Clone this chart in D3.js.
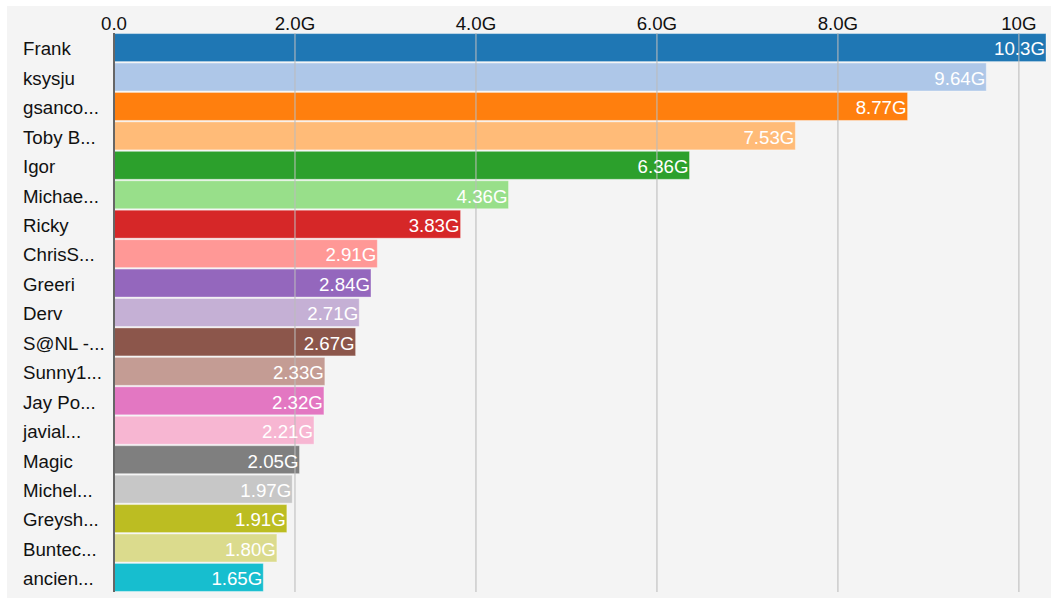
<!DOCTYPE html>
<html lang="en">
<head>
    <meta charset="UTF-8">
    <title>Top users</title>
    <script src="https://cdnjs.cloudflare.com/ajax/libs/d3/7.6.1/d3.min.js"></script>
    <style>
        body {
            margin: 0;
            background: #fff;
            font-family: "Liberation Sans", Arial, sans-serif;
        }
        svg text {
            font-size: 18.7px;
        }
    </style>
</head>
<body>
    <svg id="chart" width="1051" height="601"></svg>

    <script>
        // names as shown (already truncated)
        const names = ["Frank", "ksysju", "gsanco...", "Toby B...", "Igor", "Michae...", "Ricky",
            "ChrisS...", "Greeri", "Derv", "S@NL -...", "Sunny1...", "Jay Po...", "javial...",
            "Magic", "Michel...", "Greysh...", "Buntec...", "ancien..."];
        // values in G
        const values = [10.3, 9.64, 8.77, 7.53, 6.36, 4.36, 3.83, 2.91, 2.84, 2.71, 2.67,
            2.33, 2.32, 2.21, 2.05, 1.97, 1.91, 1.80, 1.65];
        const colors = ["#1f77b4", "#aec7e8", "#ff7f0e", "#ffbb78", "#2ca02c", "#98df8a",
            "#d62728", "#ff9896", "#9467bd", "#c5b0d5", "#8c564b", "#c49c94", "#e377c2",
            "#f7b6d2", "#7f7f7f", "#c7c7c7", "#bcbd22", "#dbdb8d", "#17becf"];

        const data = names.map((n, i) => ({ name: n, value: values[i] * 1e9, color: colors[i] }));

        const svg = d3.select("#chart");

        // panel background
        svg.append("rect")
            .attr("x", 7).attr("y", 6)
            .attr("width", 1044).attr("height", 592)
            .attr("fill", "#f4f4f4");

        const x = d3.scaleLinear()
            .domain([0, d3.max(data, d => d.value)])
            .range([114, 1046]);

        const y = d3.scaleBand()
            .domain(names)
            .range([33, 592])
            .paddingInner(0.05)
            .paddingOuter(0.02);

        const fmt = d3.format(".3s");

        // bars
        svg.append("g")
            .selectAll("rect")
            .data(data)
            .enter()
            .append("rect")
            .attr("x", x(0))
            .attr("y", d => y(d.name))
            .attr("width", d => x(d.value) - x(0))
            .attr("height", y.bandwidth())
            .attr("fill", d => d.color)
            .attr("stroke", "#fff")
            .attr("stroke-opacity", 0.35)
            .attr("stroke-width", 1);

        // grid lines (drawn over bars)
        const ticks = x.ticks(5);
        svg.append("g")
            .selectAll("line")
            .data(ticks.filter(t => t > 0))
            .enter()
            .append("line")
            .attr("x1", d => x(d)).attr("x2", d => x(d))
            .attr("y1", 33).attr("y2", 592)
            .attr("stroke", "#bbb")
            .attr("stroke-opacity", 0.7)
            .attr("stroke-width", 1.5);

        // top axis labels
        const tickFmt = d3.format(".2s");
        svg.append("g")
            .selectAll("text")
            .data(ticks)
            .enter()
            .append("text")
            .attr("x", d => x(d))
            .attr("y", 30)
            .attr("text-anchor", "middle")
            .attr("fill", "#111")
            .text(d => tickFmt(d));

        // left axis line
        svg.append("line")
            .attr("x1", x(0)).attr("x2", x(0))
            .attr("y1", 33).attr("y2", 592)
            .attr("stroke", "#666")
            .attr("stroke-width", 2);

        // name labels
        svg.append("g")
            .selectAll("text")
            .data(data)
            .enter()
            .append("text")
            .attr("x", 23)
            .attr("y", d => y(d.name) + y.bandwidth() / 2)
            .attr("dy", "0.42em")
            .attr("fill", "#111")
            .text(d => d.name);

        // value labels inside bar ends
        svg.append("g")
            .selectAll("text")
            .data(data)
            .enter()
            .append("text")
            .attr("x", d => x(d.value) - 1)
            .attr("y", d => y(d.name) + y.bandwidth() / 2)
            .attr("dy", "0.42em")
            .attr("text-anchor", "end")
            .attr("fill", "#fff")
            .text(d => fmt(d.value));
    </script>
</body>
</html>
